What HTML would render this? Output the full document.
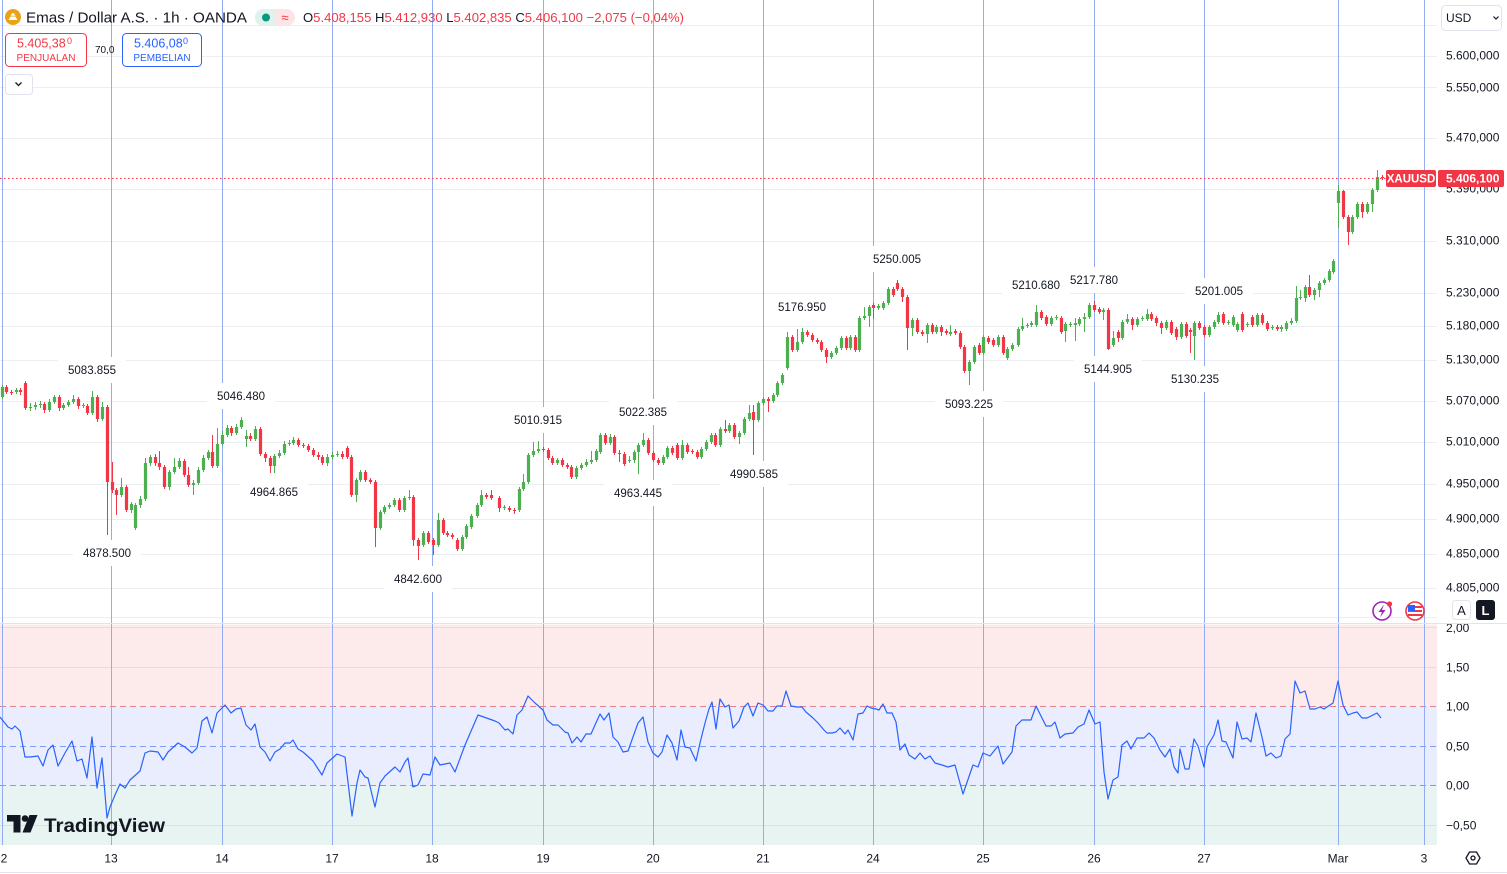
<!DOCTYPE html>
<html><head><meta charset="utf-8"><style>
html,body{margin:0;padding:0;background:#fff;}
svg{display:block;font-family:"Liberation Sans",sans-serif;}
</style></head><body>
<svg width="1507" height="874" viewBox="0 0 1507 874" xmlns="http://www.w3.org/2000/svg">
<defs><clipPath id="ax2"><rect x="1437" y="624" width="70" height="30"/></clipPath></defs>
<rect width="1507" height="874" fill="#fff"/>
<path d="M0 25.5H1437M0 56.5H1437M0 87.5H1437M0 138.5H1437M0 189.5H1437M0 241.5H1437M0 293.5H1437M0 326.5H1437M0 360.5H1437M0 401.5H1437M0 442.5H1437M0 484.5H1437M0 519.5H1437M0 554.5H1437M0 588.5H1437M0 617.5H1437" stroke="#eceef2" stroke-width="1" fill="none"/>
<rect x="0" y="624.5" width="1437" height="81.5" fill="#fdebec"/>
<rect x="0" y="706" width="1437" height="79.5" fill="#e9edfd"/>
<rect x="0" y="785.5" width="1437" height="59.5" fill="#e7f4f1"/>
<path d="M0 627.5H1437M0 667.5H1437M0 825.5H1437" stroke="#dcdfe6" stroke-width="1"/>
<line x1="0" y1="706.5" x2="1437" y2="706.5" stroke="#e3848d" stroke-dasharray="6 4"/>
<line x1="0" y1="746.5" x2="1437" y2="746.5" stroke="#7f9cf5" stroke-dasharray="6 4"/>
<line x1="0" y1="785.5" x2="1437" y2="785.5" stroke="#5bb9a6" stroke-dasharray="6 4"/>
<path d="M2.5 0V845M111.5 0V845M222.5 0V845M332.5 0V845M432.5 0V845M543.5 0V845M653.5 0V845M763.5 0V845M873.5 0V845M983.5 0V845M1094.5 0V845M1204.5 0V845M1338.5 0V845M1424.5 0V845" stroke="#93aaf5" stroke-width="1"/>
<g transform="translate(0.5,0)" fill="none">
<path stroke="#4caf50" stroke-width="1" d="M2 385V399M16 388V394M30 403V411M35 402V410M40 401V408M49 399V412M54 395V404M63 403V410M68 400V407M73 395V404M83 403V408M92 391V415M102 402V421M121 478V497M131 502V513M135 503V530M140 496V508M145 458V501M150 455V466M169 470V490M174 458V474M179 458V469M193 480V495M198 467V485M203 455V472M208 450V460M217 428V468M222 431V446M227 425V437M236 424V435M241 417V429M246 430V447M255 426V441M274 454V473M279 450V458M284 441V455M289 440V446M293 437V445M327 454V466M332 452V459M337 451V457M356 478V502M360 470V482M380 510V530M384 505V514M389 503V509M394 498V507M404 496V512M409 490V500M423 531V547M438 513V547M462 535V551M466 524V539M471 514V529M477 503V518M481 490V507M504 505V510M519 487V512M523 474V491M528 453V484M533 442V457M538 441V453M557 458V465M576 466V479M581 463V470M586 459V467M591 451V464M596 449V462M600 433V454M610 434V445M629 456V463M634 450V463M638 443V474M643 433V447M663 455V465M667 446V459M682 440V460M701 447V459M706 440V451M711 433V444M720 427V447M729 423V433M739 431V444M744 417V435M749 405V421M758 401V422M763 397V405M773 393V403M777 381V397M782 373V385M787 332V370M797 329V352M802 328V344M831 351V359M836 346V355M841 336V350M850 335V350M859 316V352M864 307V320M869 305V327M878 304V310M883 301V310M888 287V305M912 318V336M927 323V343M936 325V334M950 325V336M969 360V385M974 345V364M983 335V355M998 335V347M1007 347V360M1012 343V351M1018 327V347M1022 318V331M1027 323V328M1031 321V327M1036 305V327M1051 316V326M1056 315V320M1065 322V342M1070 322V327M1075 318V341M1079 317V326M1084 313V332M1089 303V319M1103 308V320M1113 331V347M1122 320V340M1127 314V324M1137 317V327M1142 316V321M1147 309V321M1166 320V330M1181 322V339M1194 321V360M1209 325V337M1214 320V329M1218 312V324M1228 320V325M1233 315V327M1237 322V332M1247 322V327M1257 313V327M1272 325V330M1281 325V332M1286 321V331M1291 318V325M1296 286V323M1300 290V300M1305 285V302M1314 288V300M1319 281V297M1324 278V285M1329 269V282M1333 259V274M1338 185V228M1352 215V234M1357 202V219M1367 202V214M1372 188V212M1377 170V192"/>
<path stroke="#4caf50" stroke-width="3.2" d="M2 387V397M16 390V392M30 407V408M35 405V407M40 404V405M49 402V410M54 397V402M63 405V408M68 402V405M73 399V402M83 405V406M92 397V413M102 407V419M121 487V495M131 504V510M135 505V528M140 499V505M145 463V499M150 457V463M169 472V487M174 467V472M179 461V467M193 483V485M198 470V483M203 458V470M208 452V458M217 444V466M222 435V444M227 428V435M236 427V433M241 420V427M246 436V439M255 429V439M274 456V466M279 453V456M284 444V453M289 443V444M293 440V443M327 457V463M332 455V457M337 454V455M356 480V495M360 472V480M380 512V528M384 507V512M389 505V507M394 500V505M404 498V510M409 497V498M423 533V545M438 520V545M462 537V549M466 526V537M471 516V527M477 505V516M481 495V505M504 507V508M519 489V510M523 482V489M528 455V482M533 451V455M538 449V451M557 460V463M576 468V477M581 465V468M586 462V465M591 460V462M596 451V460M600 435V452M610 437V443M629 460V461M634 452V460M638 445V452M643 440V445M663 457V463M667 448V457M682 445V458M701 449V457M706 442V449M711 435V442M720 429V445M729 425V431M739 433V437M744 419V433M749 413V419M758 403V420M763 399V403M773 395V401M777 383V395M782 375V383M787 337V368M797 342V350M802 332V342M831 353V357M836 348V353M841 338V348M850 337V348M859 318V350M864 316V318M869 307V316M878 306V308M883 303V308M888 289V303M912 320V328M927 325V334M936 327V332M950 332V334M969 362V371M974 347V362M983 337V353M998 337V345M1007 349V358M1012 345V349M1018 329V345M1022 326V329M1027 325V326M1031 323V325M1036 312V325M1051 318V324M1056 317V318M1065 324V331M1070 324V325M1075 323V325M1079 319V324M1084 317V319M1089 305V317M1103 310V312M1113 338V345M1122 322V338M1127 319V322M1137 319V325M1142 318V319M1147 314V319M1166 322V328M1181 324V337M1194 323V336M1209 327V335M1214 322V327M1218 315V322M1228 322V323M1233 317V325M1237 324V330M1247 324V325M1257 315V325M1272 327V328M1281 327V329M1286 323V329M1291 321V323M1296 298V321M1300 297V298M1305 287V298M1314 290V295M1319 283V290M1324 280V283M1329 271V280M1333 261V272M1338 191V203M1352 217V232M1357 204V217M1367 204V212M1372 190V204M1377 177V190"/>
<path stroke="#f23645" stroke-width="1" d="M6 385V394M11 390V395M20 388V395M25 381V410M44 402V413M59 395V411M78 397V409M87 404V415M97 395V422M107 405V535M112 462V493M116 488V515M126 485V512M155 454V466M159 451V470M164 465V489M184 459V477M188 467V487M212 435V468M231 426V436M250 433V441M260 427V456M265 452V462M270 456V473M298 438V447M303 443V448M308 444V452M313 448V457M318 452V460M322 455V465M342 451V459M347 446V459M351 455V497M365 470V482M370 478V484M375 480V547M399 498V512M413 495V546M418 538V560M428 531V544M433 538V555M443 518V535M447 531V537M452 533V539M457 538V551M486 493V499M491 490V500M499 496V512M509 506V512M514 508V514M543 447V452M548 448V460M552 456V465M562 458V467M567 463V469M571 465V479M605 433V445M614 435V455M619 450V462M624 452V466M648 438V455M653 451V462M658 458V465M672 446V455M677 443V460M687 443V454M692 449V454M697 450V459M715 433V447M725 420V433M734 423V439M753 405V455M768 397V412M792 335V352M807 330V337M812 333V342M817 338V344M821 340V352M826 348V363M846 336V350M855 335V352M873 303V319M893 287V297M897 280V291M902 287V302M907 295V350M917 318V334M922 330V336M932 323V334M941 325V336M946 329V335M955 329V335M960 331V349M964 345V373M979 343V355M988 336V344M993 338V347M1003 335V355M1041 310V320M1046 315V326M1061 316V334M1094 301V312M1099 307V314M1108 308V350M1118 330V342M1132 317V330M1151 312V321M1156 316V326M1161 321V334M1171 320V335M1176 327V340M1186 322V338M1190 328V353M1199 321V330M1204 325V337M1223 312V325M1242 312V332M1252 315V327M1262 313V325M1267 321V331M1277 325V331M1309 275V297M1343 190V219M1348 215V245M1362 202V218M1382 175V180"/>
<path stroke="#f23645" stroke-width="3.2" d="M6 387V392M11 392V393M20 390V392M25 383V408M44 404V410M59 397V408M78 399V406M87 406V413M97 397V419M107 407V482M112 482V490M116 490V495M126 487V510M155 457V463M159 463V467M164 467V487M184 461V475M188 475V485M212 452V466M231 428V433M250 436V439M260 429V454M265 454V458M270 458V466M298 440V445M303 445V446M308 446V450M313 450V455M318 455V457M322 457V463M342 454V457M347 448V457M351 457V495M365 472V480M370 480V482M375 482V528M399 500V510M413 497V540M418 540V546M428 533V542M433 540V545M443 520V533M447 533V535M452 535V537M457 540V549M486 495V497M491 495V498M499 498V508M509 508V510M514 510V511M543 449V450M548 450V458M552 458V463M562 460V465M567 465V467M571 467V477M605 435V443M614 437V453M619 453V454M624 454V464M648 440V453M653 453V460M658 460V463M672 448V453M677 445V458M687 445V452M692 451V452M697 452V457M715 435V445M725 429V431M734 425V437M753 412V420M768 399V401M792 337V350M807 332V335M812 335V340M817 340V342M821 342V350M826 350V357M846 338V348M855 337V350M873 305V308M893 289V295M897 283V289M902 289V297M907 297V328M917 320V332M922 332V334M932 325V332M941 327V332M946 331V333M955 331V333M960 333V347M964 347V371M979 345V353M988 338V342M993 340V345M1003 337V353M1041 312V318M1046 317V324M1061 318V332M1094 305V310M1099 309V312M1108 310V349M1118 332V338M1132 319V325M1151 314V319M1156 318V323M1161 323V328M1171 322V333M1176 329V337M1186 324V336M1190 330V332M1199 323V328M1204 327V335M1223 314V323M1242 314V330M1252 317V325M1262 315V323M1267 323V329M1277 327V329M1309 287V295M1343 191V217M1348 217V232M1362 204V212M1382 177V178"/>
</g>
<polyline fill="none" stroke="#2962ff" stroke-width="1.2" stroke-linejoin="round" points="0,717,8,727,12,729,15,726,20,731,25,757,30,757,38,756,43,766,48,750,53,745,58,766,65,753,72,741,77,761,82,759,87,778,92,737,97,788,102,758,107,818,110,807,115,795,120,784,125,788,130,780,140,771,145,753,150,751,158,752,163,760,168,752,178,743,185,747,192,753,197,748,202,721,207,717,212,733,217,713,225,705,231,713,236,709,241,708,246,725,251,730,255,724,260,747,265,752,270,761,275,752,280,749,285,743,290,743,293,740,298,749,303,752,313,761,322,775,327,763,337,754,345,757,352,816,357,783,360,770,365,777,368,778,375,807,380,783,385,776,395,767,400,772,405,762,408,758,413,787,418,785,423,774,430,775,435,757,440,765,450,763,455,772,465,745,478,715,495,721,499,723,505,730,508,729,513,734,517,715,522,710,528,696,535,703,543,710,547,720,553,725,558,725,565,732,568,733,572,743,577,737,581,742,586,734,591,734,595,725,600,714,604,720,609,713,613,737,618,742,623,752,628,751,633,737,638,723,643,717,648,742,653,753,658,757,662,752,667,735,672,743,677,760,681,730,685,747,690,748,696,761,700,743,705,723,709,709,712,702,716,729,720,699,725,707,729,705,733,728,739,721,744,707,748,703,753,716,758,703,763,705,768,711,773,711,777,706,782,706,786,691,791,706,797,707,802,707,806,712,813,718,818,723,824,730,827,733,832,733,836,732,840,728,845,734,848,730,853,740,858,714,863,713,867,706,871,708,876,709,879,710,883,704,887,713,892,713,896,722,900,750,905,744,909,755,915,759,920,753,925,759,930,756,935,763,942,765,948,767,955,765,963,794,973,765,978,767,983,753,990,756,998,746,1003,764,1012,752,1016,726,1022,720,1031,720,1036,706,1042,718,1046,726,1051,726,1055,722,1060,738,1065,734,1073,733,1078,727,1084,724,1089,710,1095,724,1100,722,1104,772,1108,799,1113,780,1118,777,1122,745,1127,741,1131,749,1137,738,1144,738,1149,733,1154,738,1160,750,1165,757,1170,749,1174,767,1178,773,1180,749,1185,769,1189,769,1194,739,1198,746,1204,767,1207,747,1214,735,1218,720,1222,741,1226,742,1233,758,1237,722,1242,739,1247,738,1251,742,1256,713,1262,737,1266,756,1271,753,1276,758,1281,756,1285,739,1290,734,1295,681,1300,693,1305,691,1310,709,1315,709,1320,707,1324,709,1330,705,1333,703,1338,681,1343,705,1348,715,1353,713,1357,712,1362,718,1367,718,1373,715,1377,713,1381,718"/>
<line x1="0" y1="178.5" x2="1386" y2="178.5" stroke="#f23645" stroke-width="1" stroke-dasharray="1.5 2.5"/>
<g font-size="11.5" fill="#131722" text-anchor="middle">
<rect x="58" y="357" width="68" height="26" fill="#fff"/><text x="92" y="374">5083.855</text>
<rect x="73" y="540" width="68" height="26" fill="#fff"/><text x="107" y="557">4878.500</text>
<rect x="207" y="383" width="68" height="26" fill="#fff"/><text x="241" y="400">5046.480</text>
<rect x="240" y="479" width="68" height="26" fill="#fff"/><text x="274" y="496">4964.865</text>
<rect x="384" y="566" width="68" height="26" fill="#fff"/><text x="418" y="583">4842.600</text>
<rect x="504" y="407" width="68" height="26" fill="#fff"/><text x="538" y="424">5010.915</text>
<rect x="609" y="399" width="68" height="26" fill="#fff"/><text x="643" y="416">5022.385</text>
<rect x="604" y="480" width="68" height="26" fill="#fff"/><text x="638" y="497">4963.445</text>
<rect x="720" y="461" width="68" height="26" fill="#fff"/><text x="754" y="478">4990.585</text>
<rect x="768" y="294" width="68" height="26" fill="#fff"/><text x="802" y="311">5176.950</text>
<rect x="863" y="246" width="68" height="26" fill="#fff"/><text x="897" y="263">5250.005</text>
<rect x="935" y="391" width="68" height="26" fill="#fff"/><text x="969" y="408">5093.225</text>
<rect x="1002" y="272" width="68" height="26" fill="#fff"/><text x="1036" y="289">5210.680</text>
<rect x="1060" y="267" width="68" height="26" fill="#fff"/><text x="1094" y="284">5217.780</text>
<rect x="1074" y="356" width="68" height="26" fill="#fff"/><text x="1108" y="373">5144.905</text>
<rect x="1185" y="278" width="68" height="26" fill="#fff"/><text x="1219" y="295">5201.005</text>
<rect x="1161" y="366" width="68" height="26" fill="#fff"/><text x="1195" y="383">5130.235</text>
</g>
<line x1="0" y1="623.5" x2="1507" y2="623.5" stroke="#e0e3eb"/>
<line x1="0" y1="872.5" x2="1507" y2="872.5" stroke="#e0e3eb"/>
<g font-size="12" fill="#131722">
<text x="1446" y="59.5">5.600,000</text>
<text x="1446" y="91.5">5.550,000</text>
<text x="1446" y="141.5">5.470,000</text>
<text x="1446" y="192.5">5.390,000</text>
<text x="1446" y="244.5">5.310,000</text>
<text x="1446" y="296.5">5.230,000</text>
<text x="1446" y="329.5">5.180,000</text>
<text x="1446" y="363.5">5.130,000</text>
<text x="1446" y="404.5">5.070,000</text>
<text x="1446" y="445.5">5.010,000</text>
<text x="1446" y="487.5">4.950,000</text>
<text x="1446" y="522.5">4.900,000</text>
<text x="1446" y="557.5">4.850,000</text>
<text x="1446" y="591.5">4.805,000</text>
<text x="1446" y="671.5">1,50</text>
<text x="1446" y="710.5">1,00</text>
<text x="1446" y="750.5">0,50</text>
<text x="1446" y="789.5">0,00</text>
<text x="1446" y="829.5">−0,50</text>
</g>
<text x="1446" y="632" font-size="12" fill="#131722" clip-path="url(#ax2)">2,00</text>
<rect x="1386" y="170" width="50" height="17" rx="2" fill="#f23645"/>
<text x="1411" y="182.5" font-size="11.5" fill="#fff" text-anchor="middle" font-weight="bold">XAUUSD</text>
<rect x="1438" y="170" width="66" height="17" rx="2" fill="#f23645"/>
<text x="1446" y="182.5" font-size="12" fill="#fff" font-weight="bold">5.406,100</text>
<rect x="1441.5" y="5.5" width="60" height="25" rx="4" fill="#fff" stroke="#e0e3eb"/>
<text x="1446" y="22" font-size="12" fill="#131722">USD</text>
<path d="M1493.5 16.5 L1496 19 L1498.5 16.5" fill="none" stroke="#131722" stroke-width="1.2"/>
<g font-size="12" fill="#131722" text-anchor="middle">
<text x="4" y="862.5">2</text><text x="111" y="862.5">13</text><text x="222" y="862.5">14</text><text x="332" y="862.5">17</text><text x="432" y="862.5">18</text><text x="543" y="862.5">19</text><text x="653" y="862.5">20</text><text x="763" y="862.5">21</text><text x="873" y="862.5">24</text><text x="983" y="862.5">25</text><text x="1094" y="862.5">26</text><text x="1204" y="862.5">27</text><text x="1338" y="862.5">Mar</text><text x="1424" y="862.5">3</text>
</g>
<g transform="translate(1473,858)" fill="none" stroke="#131722" stroke-width="1.3">
<path d="M-7 0 L-3.5 -6 L3.5 -6 L7 0 L3.5 6 L-3.5 6 Z"/>
<circle cx="0" cy="0" r="2"/>
</g>
<circle cx="13" cy="17" r="8" fill="#e8a317"/>
<path d="M8.5 20 L10.5 16.5 L15.5 16.5 L17.5 20 Z M10.5 15.8 L12 13.2 L14 13.2 L15.5 15.8 Z" fill="#fff"/>
<text x="26" y="22.5" font-size="14.5" fill="#131722" textLength="221" lengthAdjust="spacingAndGlyphs">Emas / Dollar A.S. · 1h · OANDA</text>
<rect x="255" y="9" width="40" height="17" rx="8.5" fill="#fde4e7"/>
<path d="M263.5 9 H275 V26 H263.5 A8.5 8.5 0 0 1 263.5 9 Z" fill="#dff2ec"/>
<circle cx="266" cy="17.5" r="4" fill="#089981"/>
<text x="285" y="22" font-size="13" fill="#f23645" text-anchor="middle">≈</text>
<text x="303" y="22" font-size="13" textLength="381" lengthAdjust="spacingAndGlyphs"><tspan fill="#131722">O</tspan><tspan fill="#f23645">5.408,155 </tspan><tspan fill="#131722">H</tspan><tspan fill="#f23645">5.412,930 </tspan><tspan fill="#131722">L</tspan><tspan fill="#f23645">5.402,835 </tspan><tspan fill="#131722">C</tspan><tspan fill="#f23645">5.406,100 −2,075 (−0,04%)</tspan></text>
<rect x="5.5" y="33.5" width="81" height="33" rx="4" fill="#fff" stroke="#f23645"/>
<text x="17" y="47.5" font-size="12.5" fill="#f23645">5.405,38</text><text x="67" y="44" font-size="9" fill="#f23645">0</text>
<text x="46" y="61" font-size="10" fill="#f23645" text-anchor="middle">PENJUALAN</text>
<text x="95" y="53" font-size="10" fill="#131722">70,0</text>
<rect x="122.5" y="33.5" width="79" height="33" rx="4" fill="#fff" stroke="#2962ff"/>
<text x="134" y="47.5" font-size="12.5" fill="#2962ff">5.406,08</text><text x="183" y="44" font-size="9" fill="#2962ff">0</text>
<text x="162" y="61" font-size="10" fill="#2962ff" text-anchor="middle">PEMBELIAN</text>
<rect x="5.5" y="74.5" width="27" height="20" rx="3" fill="#fff" stroke="#e0e3eb"/>
<path d="M15.5 82.5 L18.5 85.5 L21.5 82.5" fill="none" stroke="#131722" stroke-width="1.3"/>
<circle cx="1382" cy="611" r="9" fill="#fff" stroke="#9c27b0" stroke-width="1.6"/>
<path d="M1384 604.5 L1378.5 612 L1382 612 L1380 617.5 L1385.5 610 L1382 610 Z" fill="#9c27b0"/>
<circle cx="1389.5" cy="604" r="2.6" fill="#f23645"/>
<circle cx="1415" cy="611" r="9" fill="#fff" stroke="#f23645" stroke-width="1.6"/>
<rect x="1408" y="606" width="14" height="2" fill="#f23645"/><rect x="1408" y="610" width="14" height="2" fill="#f23645"/><rect x="1408" y="614" width="14" height="2" fill="#f23645"/>
<rect x="1408" y="605" width="7" height="6" fill="#2962ff"/>
<rect x="1452.5" y="600.5" width="18" height="19" rx="3" fill="#fff" stroke="#e0e3eb"/>
<text x="1461.5" y="615" font-size="13" fill="#131722" text-anchor="middle">A</text>
<rect x="1476" y="600" width="19" height="20" rx="3" fill="#131722"/>
<text x="1485.5" y="615" font-size="13" fill="#fff" text-anchor="middle" font-weight="bold">L</text>
<g fill="#131722">
<path d="M7 815 H20.5 V832.5 H13.5 V821.5 H7 Z"/>
<circle cx="25" cy="818.5" r="3.3"/>
<polygon points="29.5,815 37.5,815 30.5,832.5 22.5,832.5"/>
<text x="44" y="832" font-size="19.5" font-weight="bold" textLength="121" lengthAdjust="spacingAndGlyphs">TradingView</text>
</g>
</svg>
</body></html>
